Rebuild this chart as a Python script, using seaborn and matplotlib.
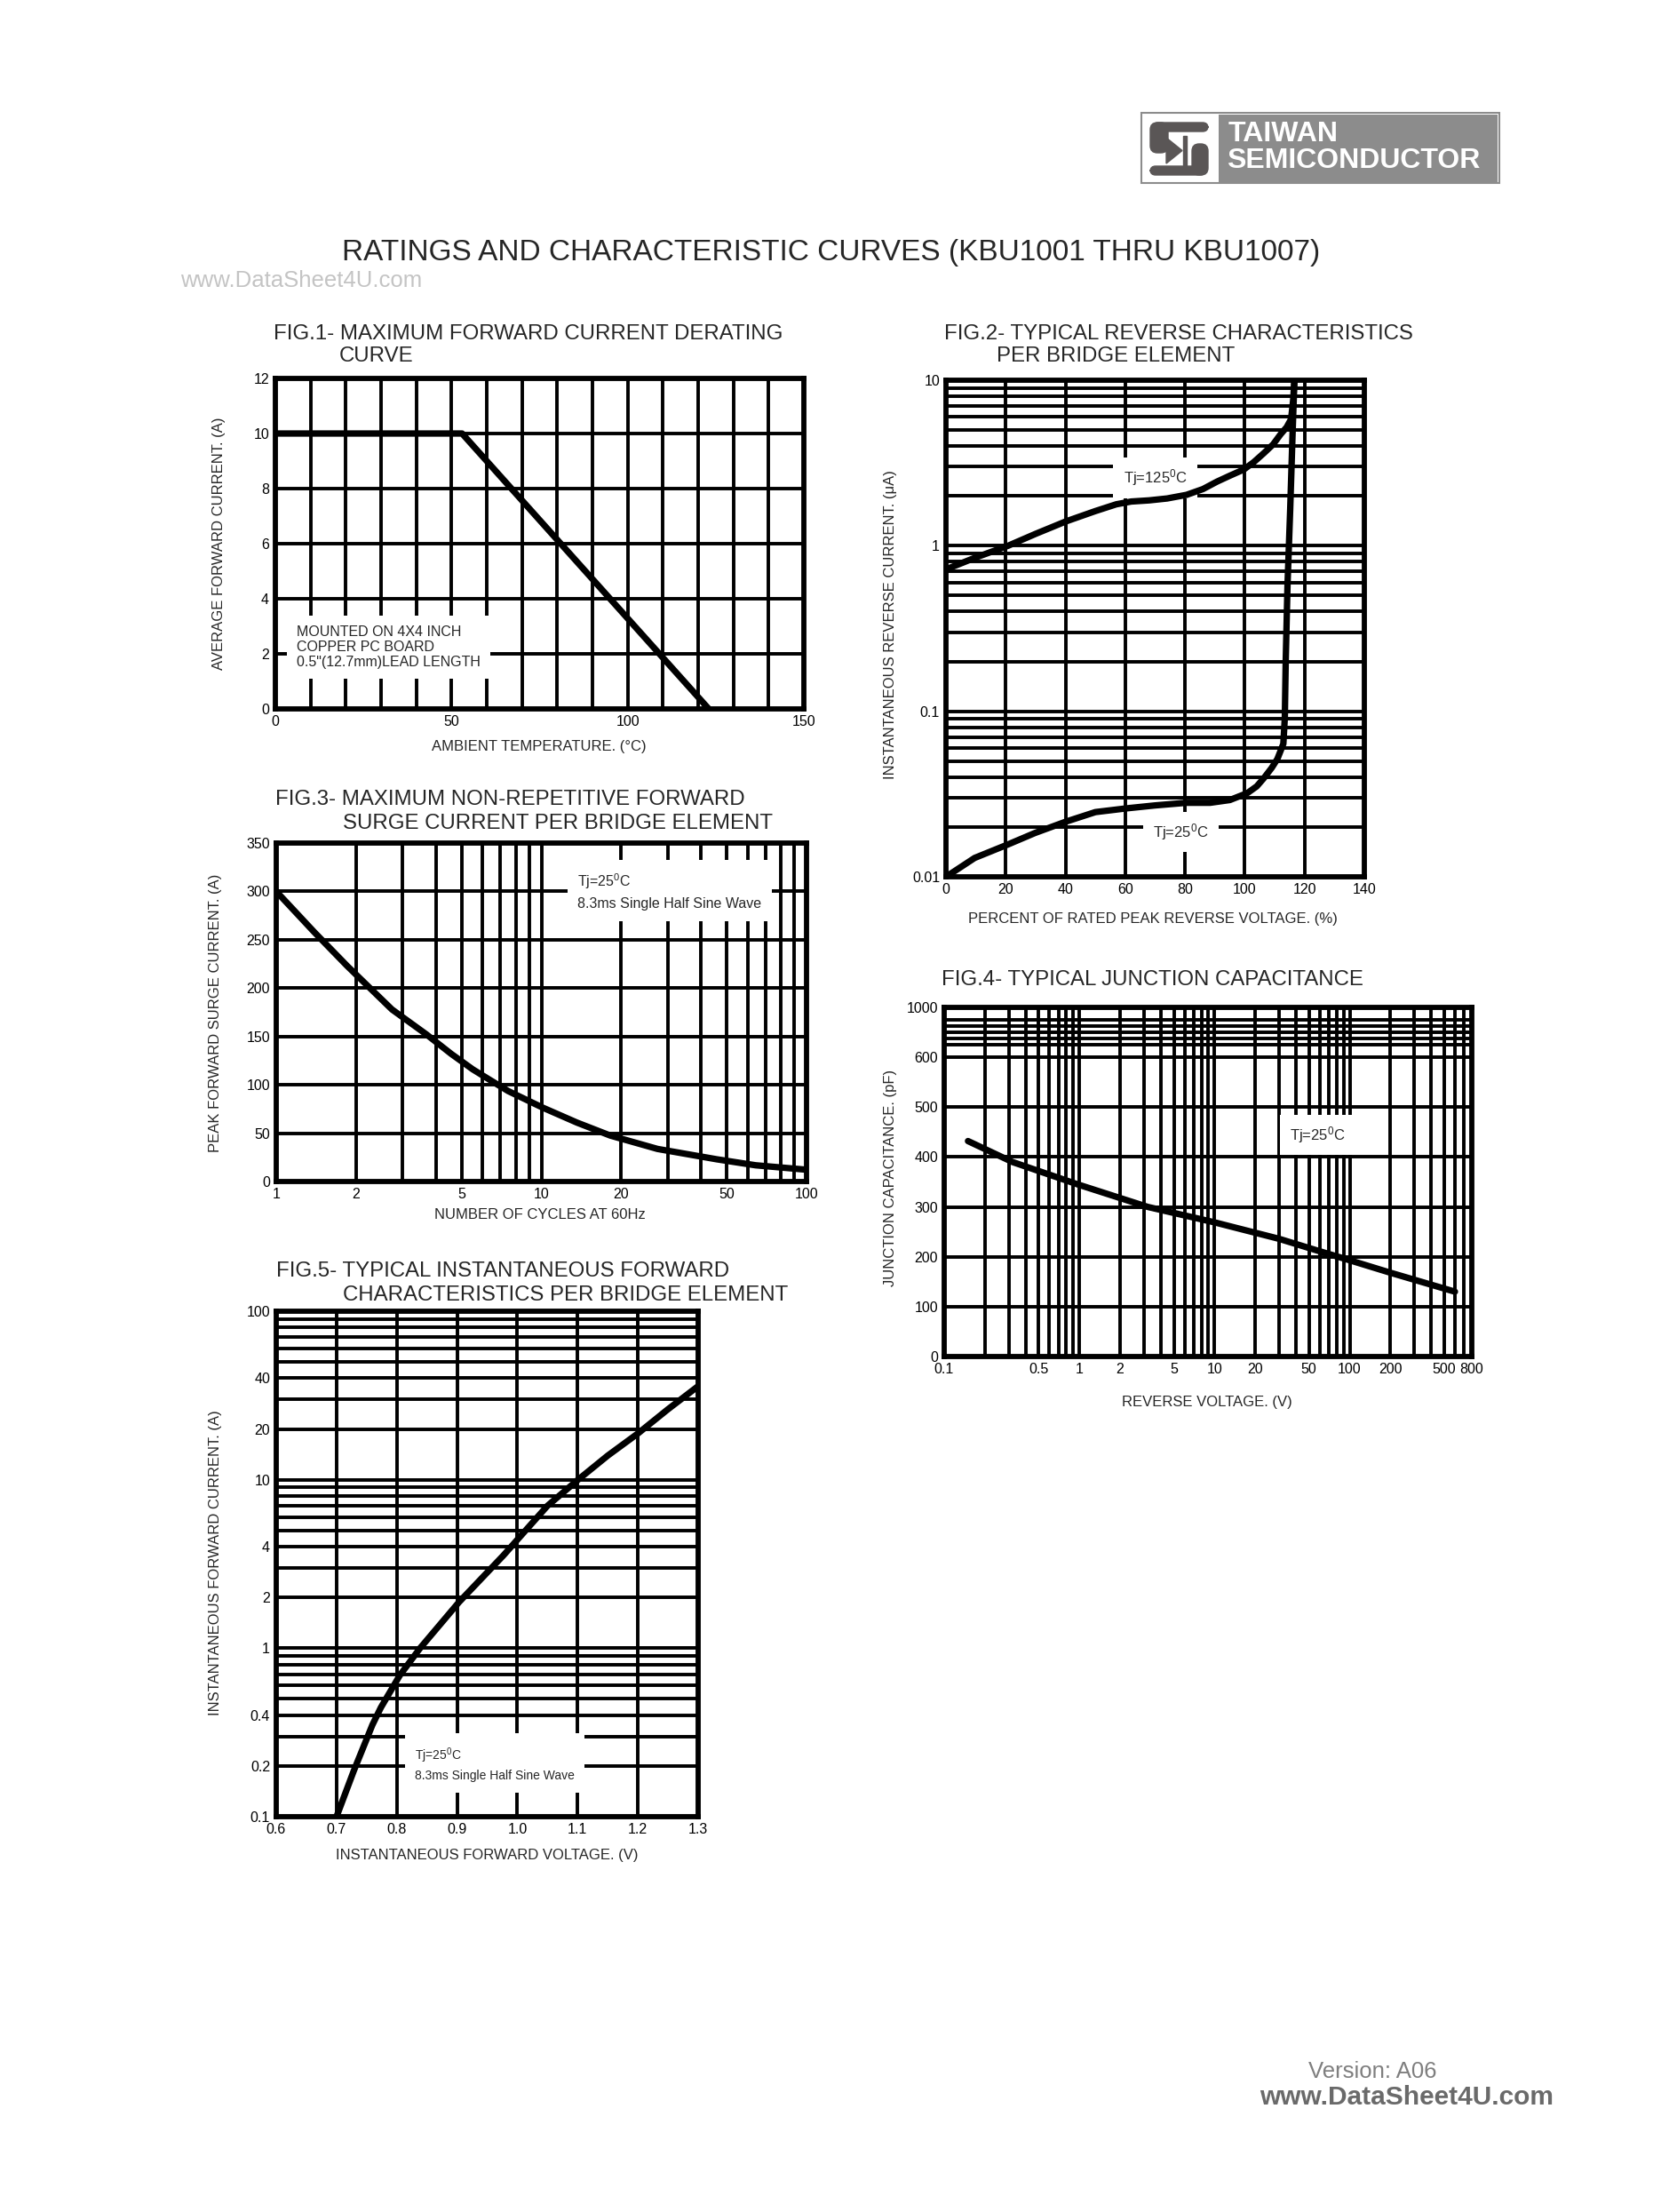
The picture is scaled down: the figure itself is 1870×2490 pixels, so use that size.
import numpy as np
import matplotlib
matplotlib.use("Agg")
import matplotlib.pyplot as plt
import matplotlib.ticker as mticker
from matplotlib.patches import Rectangle, Polygon, FancyBboxPatch
import seaborn as sns

W, H = 1870, 2490

########## data ##########
# FIG.1 derating curve
fig1_temp = [0, 53, 123]
fig1_amps = [10, 10, 0]

# FIG.2 reverse characteristics (Tj=125C and Tj=25C)
fig2_pct_hot = [0, 10, 20.8, 30, 40, 50, 57, 62, 68, 74, 80.5, 86, 90.7, 95, 99.7, 103, 106.4,
                109.5, 112, 114, 115.5, 116.2, 116.6]
fig2_ua_hot = [0.72, 0.85, 1.0, 1.18, 1.40, 1.62, 1.78, 1.85, 1.88, 1.93, 2.03, 2.2, 2.44, 2.65,
               2.89, 3.2, 3.63, 4.1, 4.72, 5.2, 5.83, 7.6, 10]
fig2_pct_cold = [0, 9.6, 20.8, 29.8, 40, 50, 60.3, 70, 80.5, 88.4, 95, 100.8, 104, 106.4, 109,
                 110.9, 112.9, 113.4, 113.7, 114.3, 115.2, 116, 116.6]
fig2_ua_cold = [0.010, 0.0130, 0.0157, 0.0184, 0.0215, 0.0246, 0.0259, 0.0270, 0.0280, 0.0280,
                0.0291, 0.0320, 0.0352, 0.0395, 0.0455, 0.0515, 0.0636, 0.092, 0.203, 0.585,
                1.68, 4.84, 10]

# FIG.3 surge current
fig3_cycles = [1, 1.39, 1.85, 2.73, 3.69, 4.57, 5.51, 6.4, 7.5, 10.1, 13.6, 18.2, 27.4, 45.8, 64.2, 100]
fig3_amps = [300, 258, 223, 178, 152, 132, 116, 105, 93.5, 76.5, 61, 47.5, 33.7, 23, 16.8, 12.2]

# FIG.4 junction capacitance
fig4_volts = [0.15, 0.32, 1, 3.2, 10, 30, 60, 100, 200, 600]
fig4_pf = [432, 390, 344, 300, 269, 236, 211, 193, 168, 130]

# FIG.5 forward characteristics
fig5_volts = [0.7, 0.7286, 0.7483, 0.7596, 0.7737, 0.805, 0.8386, 0.9034, 0.9768, 1.05, 1.1008,
              1.15, 1.2, 1.25, 1.3]
fig5_amps = [0.1, 0.187, 0.279, 0.351, 0.445, 0.69, 1.0, 1.88, 3.55, 7.0, 10, 13.9, 18.8, 26.2, 35.9]

# tick labels
fig1_xticks = [0, 50, 100, 150]
fig2_yticks = [0.01, 0.1, 1, 10]
fig3_xticks = [1, 2, 5, 10, 20, 50, 100]
fig4_xticks = [0.1, 0.5, 1, 2, 5, 10, 20, 50, 100, 200, 500, 800]
fig4_yticks = [0, 100, 200, 300, 400, 500, 600, 1000]
fig4_yminor = [700, 750, 800, 850, 900]
fig5_xticks = [0.6, 0.7, 0.8, 0.9, 1.0, 1.1, 1.2, 1.3]
fig5_yticks = [0.1, 0.2, 0.4, 1, 2, 4, 10, 20, 40, 100]

sns.set_style("white")
plt.rcParams["font.family"] = ["Liberation Sans", "DejaVu Sans"]
plt.rcParams["mathtext.default"] = "regular"

fig = plt.figure(figsize=(W / 100, H / 100), dpi=100)
fig.patch.set_facecolor("white")

# page layer in pixel coordinates for header, titles and footer
page = fig.add_axes([0, 0, 1, 1])
page.set_xlim(0, W)
page.set_ylim(H, 0)
page.axis("off")

GRID_LW = 2.8
CURVE_LW = 5.2


def panel(box):
    l, t, r, b = box
    ax = fig.add_axes([l / W, 1 - b / H, (r - l) / W, (b - t) / H])
    ax.set_axisbelow(True)
    ax.set_facecolor("white")
    for s in ax.spines.values():
        s.set_visible(True)
        s.set_color("black")
        s.set_linewidth(4.2)
    ax.tick_params(which="both", length=0, labelsize=11.5, pad=5, colors="black")
    return ax


def axis_labels(ax, box, xlabel, xpos, ylabel, ypos):
    l, t, r, b = box
    ax.set_xlabel(xlabel, fontsize=12)
    ax.xaxis.label.set_va("center")
    ax.xaxis.set_label_coords((xpos[0] - l) / (r - l), (b - xpos[1]) / (b - t))
    ax.set_ylabel(ylabel, fontsize=12)
    ax.yaxis.label.set_va("center")
    ax.yaxis.set_label_coords((ypos[0] - l) / (r - l), (b - ypos[1]) / (b - t))


def fig_title(lines, x1, x2, y1, y2):
    page.text(x1, y1, lines[0], fontsize=17.3, va="baseline", ha="left")
    page.text(x2, y2, lines[1], fontsize=17.3, va="baseline", ha="left")


def curve(ax, x, y):
    sns.lineplot(x=x, y=y, ax=ax, color="black", linewidth=CURVE_LW,
                 sort=False, estimator=None, zorder=4)


mask = dict(facecolor="white", edgecolor="none", pad=8)

########## header ##########
page.add_patch(Rectangle((1285, 127), 403, 79, facecolor="white", edgecolor="#8c8c8c", lw=1.5))
page.add_patch(Rectangle((1372, 129), 314, 76, facecolor="#8c8c8c", edgecolor="none"))
logo = "#5a5656"
# stylised S with a diode in the middle
page.add_patch(FancyBboxPatch((1300, 140), 58, 6, boxstyle="round,pad=2,rounding_size=6", color=logo))
page.add_patch(FancyBboxPatch((1297, 140), 16, 30, boxstyle="round,pad=2,rounding_size=8", color=logo))
page.add_patch(FancyBboxPatch((1344, 164), 14, 31, boxstyle="round,pad=2,rounding_size=8", color=logo))
page.add_patch(FancyBboxPatch((1297, 189), 58, 6, boxstyle="round,pad=2,rounding_size=6", color=logo))
page.add_patch(Polygon([(1313, 155), (1313, 184), (1331, 169.5)], color=logo))
page.add_patch(Rectangle((1332, 153), 4, 33, color=logo))
page.text(1383, 151, "TAIWAN", color="white", fontsize=23, fontweight="bold", va="center")
page.text(1381, 181, "SEMICONDUCTOR", color="white", fontsize=23, fontweight="bold", va="center")

page.text(936, 285, "RATINGS AND CHARACTERISTIC CURVES (KBU1001 THRU KBU1007)",
          fontsize=24, ha="center", va="center")
page.text(203, 316, "www.DataSheet4U.com", fontsize=18.5, color="#c4c4c4", va="center")

########## FIG.1 ##########
box1 = (310, 426, 905, 798)
ax1 = panel(box1)
curve(ax1, fig1_temp, fig1_amps)
ax1.set_xlim(0, 150)
ax1.set_ylim(0, 12)
ax1.set_xticks(fig1_xticks)
ax1.xaxis.set_minor_locator(mticker.MultipleLocator(10))
ax1.yaxis.set_major_locator(mticker.MultipleLocator(2))
ax1.grid(True, which="both", color="black", linewidth=GRID_LW)
ax1.text(6, 2.25, "MOUNTED ON 4X4 INCH\nCOPPER PC BOARD\n0.5\"(12.7mm)LEAD LENGTH",
         fontsize=11.5, ha="left", va="center", linespacing=1.15, bbox=mask, zorder=3)
axis_labels(ax1, box1, "AMBIENT TEMPERATURE. (\u00b0C)", (607, 840),
            "AVERAGE FORWARD CURRENT. (A)", (246, 612))
fig_title(["FIG.1- MAXIMUM FORWARD CURRENT DERATING", "CURVE"], 308, 382, 382, 407)

########## FIG.2 ##########
box2 = (1065, 428, 1536, 987)
ax2 = panel(box2)
ax2.set_yscale("log")
curve(ax2, fig2_pct_hot, fig2_ua_hot)
curve(ax2, fig2_pct_cold, fig2_ua_cold)
ax2.set_xlim(0, 140)
ax2.set_ylim(0.01, 10)
ax2.xaxis.set_major_locator(mticker.MultipleLocator(20))
ax2.set_yticks(fig2_yticks, labels=["0.01", "0.1", "1", "10"])
ax2.yaxis.set_minor_locator(mticker.LogLocator(base=10, subs=np.arange(2, 10), numticks=100))
ax2.yaxis.set_minor_formatter(mticker.NullFormatter())
ax2.grid(True, which="both", color="black", linewidth=GRID_LW)
ax2.text(70, 2.57, "Tj=125$^{0}$C", fontsize=12, ha="center", va="center", bbox=mask, zorder=3)
ax2.text(78.5, 0.0187, "Tj=25$^{0}$C", fontsize=12, ha="center", va="center", bbox=mask, zorder=3)
axis_labels(ax2, box2, "PERCENT OF RATED PEAK REVERSE VOLTAGE. (%)", (1298, 1035),
            "INSTANTANEOUS REVERSE CURRENT. (\u03bcA)", (1003, 703))
fig_title(["FIG.2- TYPICAL REVERSE CHARACTERISTICS", "PER BRIDGE ELEMENT"], 1063, 1122, 382, 407)

########## FIG.3 ##########
box3 = (311, 949, 908, 1330)
ax3 = panel(box3)
ax3.set_xscale("log")
curve(ax3, fig3_cycles, fig3_amps)
ax3.set_xlim(1, 100)
ax3.set_ylim(0, 350)
ax3.set_xticks(fig3_xticks, labels=[str(v) for v in fig3_xticks])
ax3.xaxis.set_minor_locator(mticker.LogLocator(base=10, subs=np.arange(1, 10), numticks=100))
ax3.xaxis.set_minor_formatter(mticker.NullFormatter())
ax3.yaxis.set_major_locator(mticker.MultipleLocator(50))
ax3.grid(True, which="both", color="black", linewidth=GRID_LW)
ax3.text(13.7, 300, "Tj=25$^{0}$C\n8.3ms Single Half Sine Wave", fontsize=11.5,
         ha="left", va="center", linespacing=1.6, bbox=mask, zorder=3)
axis_labels(ax3, box3, "NUMBER OF CYCLES AT 60Hz", (608, 1368),
            "PEAK FORWARD SURGE CURRENT. (A)", (243, 1140))
fig_title(["FIG.3- MAXIMUM NON-REPETITIVE FORWARD", "SURGE CURRENT PER BRIDGE ELEMENT"],
          310, 386, 906, 933)

########## FIG.4 ##########


def cap_fwd(v):
    v = np.asarray(v, dtype=float)
    return np.where(v <= 600, v, 600 + (v - 600) / 4)


def cap_inv(s):
    s = np.asarray(s, dtype=float)
    return np.where(s <= 600, s, 600 + (s - 600) * 4)


box4 = (1063, 1134, 1657, 1527)
ax4 = panel(box4)
ax4.set_xscale("log")
ax4.set_yscale("function", functions=(cap_fwd, cap_inv))
curve(ax4, fig4_volts, fig4_pf)
ax4.set_xlim(0.1, 800)
ax4.set_ylim(0, 1000)
ax4.set_xticks(fig4_xticks, labels=[f"{v:g}" for v in fig4_xticks])
ax4.xaxis.set_minor_locator(mticker.LogLocator(base=10, subs=np.arange(1, 10), numticks=100))
ax4.xaxis.set_minor_formatter(mticker.NullFormatter())
ax4.set_yticks(fig4_yticks, labels=[str(v) for v in fig4_yticks])
ax4.set_yticks(fig4_yminor, minor=True)
ax4.grid(True, which="both", color="black", linewidth=GRID_LW)
ax4.text(58, 445, "Tj=25$^{0}$C", fontsize=12, ha="center", va="center", bbox=mask, zorder=3)
axis_labels(ax4, box4, "REVERSE VOLTAGE. (V)", (1359, 1578),
            "JUNCTION CAPACITANCE. (pF)", (1003, 1326))
page.text(1060, 1109, "FIG.4- TYPICAL JUNCTION CAPACITANCE", fontsize=17.3, va="baseline")

########## FIG.5 ##########
box5 = (311, 1476, 786, 2045)
ax5 = panel(box5)
ax5.set_yscale("log")
curve(ax5, fig5_volts, fig5_amps)
ax5.set_xlim(0.6, 1.3)
ax5.set_ylim(0.1, 100)
ax5.set_xticks(fig5_xticks, labels=[f"{v:.1f}" for v in fig5_xticks])
ax5.set_yticks(fig5_yticks, labels=[f"{v:g}" for v in fig5_yticks])
ax5.yaxis.set_minor_locator(mticker.LogLocator(base=10, subs=np.arange(1, 10), numticks=100))
ax5.yaxis.set_minor_formatter(mticker.NullFormatter())
ax5.grid(True, which="both", color="black", linewidth=GRID_LW)
ax5.text(0.83, 0.205, "Tj=25$^{0}$C\n8.3ms Single Half Sine Wave", fontsize=10,
         ha="left", va="center", linespacing=1.5, bbox=mask, zorder=3)
axis_labels(ax5, box5, "INSTANTANEOUS FORWARD VOLTAGE. (V)", (548, 2089),
            "INSTANTANEOUS FORWARD CURRENT. (A)", (243, 1759))
fig_title(["FIG.5- TYPICAL INSTANTANEOUS FORWARD", "CHARACTERISTICS PER BRIDGE ELEMENT"],
          311, 386, 1437, 1464)

########## footer ##########
page.text(1473, 2332, "Version: A06", fontsize=18.5, color="#7f7f7f", va="center")
page.text(1418, 2361, "www.DataSheet4U.com", fontsize=21.5, color="#6a6a6a",
          fontweight="bold", va="center")

fig.savefig("out.png", dpi=100, facecolor="white")
